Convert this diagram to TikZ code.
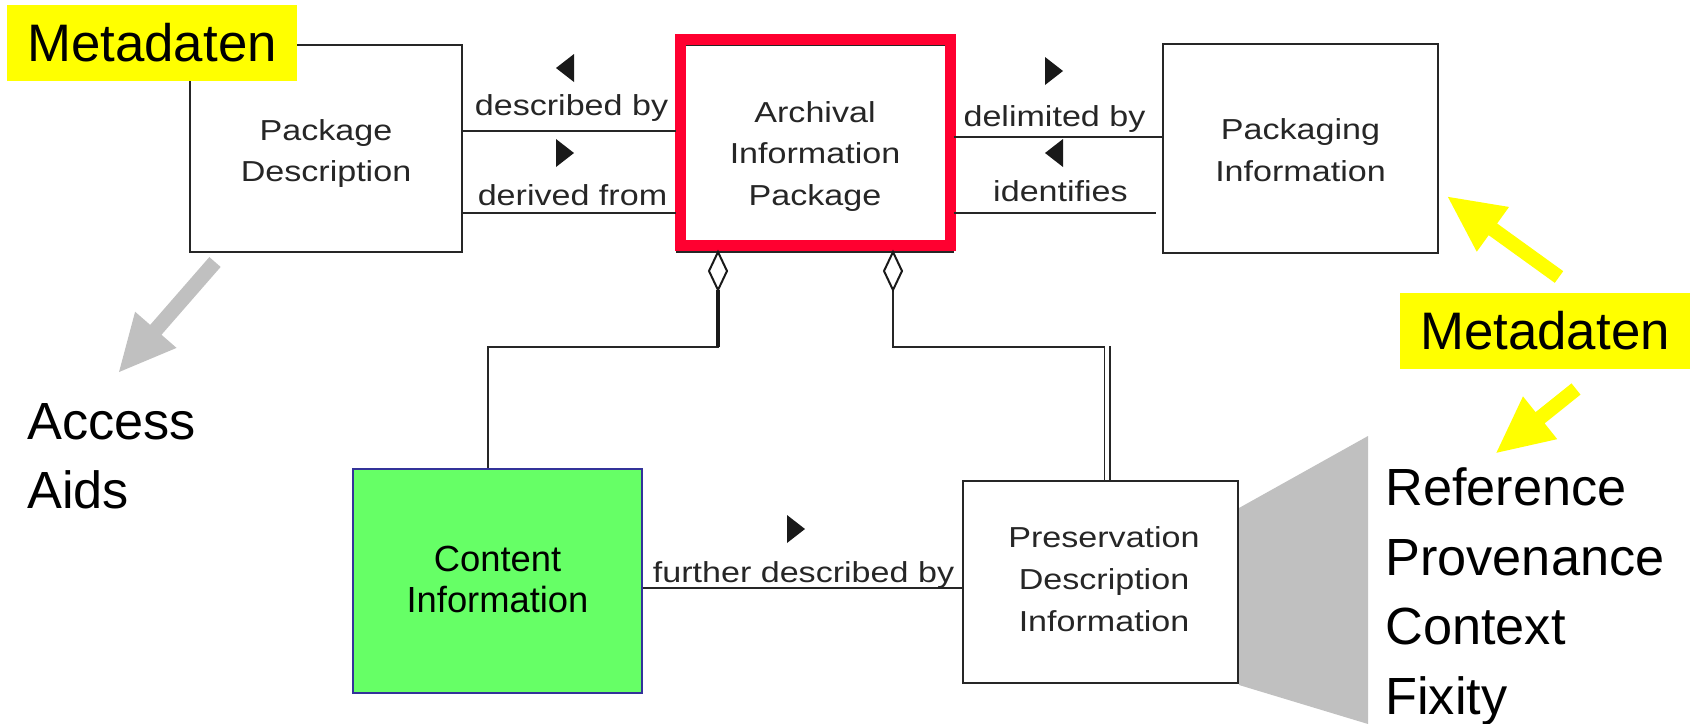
\documentclass[tikz,border=0pt]{standalone}
\usepackage{fontspec}
\setmainfont{Liberation Sans}
% slightly widened sans for the model's box and association labels
\newfontfamily\diagfont[FakeStretch=1.18]{Liberation Sans}
\definecolor{aipred}{HTML}{FF0030}
\definecolor{cigreen}{HTML}{66FF66}
\definecolor{ciblue}{HTML}{333399}
\definecolor{hintgray}{HTML}{C0C0C0}
\definecolor{tagyellow}{HTML}{FFFF00}
% block arrow: colour, start x, start y, angle, length, half shaft width, half head width, head length
\newcommand\blockarrow[8]{%
  \fill[#1, shift={(#2,#3)}, rotate=#4]
    (0,-#6) -- (#5-#8,-#6) -- (#5-#8,-#7) -- (#5,0) -- (#5-#8,#7) -- (#5-#8,#6) -- (0,#6) -- cycle;}
% direction markers of the associations
\newcommand\dirright[2]{\fill[black!90] (#1-9,#2-14) -- (#1+9,#2) -- (#1-9,#2+14) -- cycle;}
\newcommand\dirleft[2]{\fill[black!90] (#1+9,#2-14) -- (#1-9,#2) -- (#1+9,#2+14) -- cycle;}
\begin{document}
\begin{tikzpicture}[x=0.02cm,y=-0.02cm,
  box/.style={draw=black!85, line width=0.04cm, fill=white, inner sep=0},
  boxtext/.style={font=\diagfont\fontsize{16.44}{23.81}\selectfont, text=black!85, align=center, inner sep=0},
  lbl/.style={font=\diagfont\fontsize{16.44}{23.81}\selectfont, text=black!85, inner sep=0, anchor=base},
  conn/.style={draw=black!85, line width=0.04cm},
  aggr/.style={draw=black!90, fill=white, line width=0.04cm},
  bigtext/.style={font=\fontsize{29.76}{39.68}\selectfont, inner sep=0, align=left, anchor=west},
  tag/.style={fill=tagyellow, inner sep=0, minimum width=5.8cm, minimum height=1.52cm,
              font=\fontsize{30.05}{36}\selectfont}
]
\useasboundingbox (0,0) rectangle (1695,724);

% grey fan opening out of the preservation box
\fill[hintgray] (1239,508) -- (1368,436) -- (1368,724) -- (1239,685) -- cycle;

% classes
\node[box, minimum width=5.44cm, minimum height=4.14cm] (pd)  at (326,148.5) {};
\node[box, minimum width=5.52cm, minimum height=4.14cm] (aip) at (815,148.5) {};
\node[box, minimum width=5.5cm,  minimum height=4.18cm] (pi)  at (1300.5,148.5) {};
\node[draw=ciblue, fill=cigreen, line width=0.04cm, inner sep=0,
      minimum width=5.78cm, minimum height=4.48cm] (ci) at (497.5,581) {};
\node[box, minimum width=5.5cm,  minimum height=4.04cm] (pdi) at (1100.5,582) {};

% highlight frame round the archival information package
\draw[aipred, line width=0.22cm] (680,39) rectangle (950,245);

% class names
\node[boxtext] (pdtext)  at (326,153.5)  {Package\\Description};
\node[boxtext] (aiptext) at (815,156.5)  {Archival\\Information\\Package};
\node[boxtext] (pitext)  at (1300.5,150.4) {Packaging\\Information};
\node[boxtext] (pditext) at (1104,579.4) {Preservation\\Description\\Information};
\node[font=\fontsize{20.69}{23.24}\selectfont, align=center, inner sep=0] (citext)
  at (497.5,579.2) {Content\\Information};

% associations
\draw[conn] (pd.east |- 0,131) -- (aip.west |- 0,131);
\draw[conn] (pd.east |- 0,213) -- (aip.west |- 0,213);
\draw[conn] (aip.east |- 0,137) -- (pi.west |- 0,137);
\draw[conn, shorten >=0.12cm] (aip.east |- 0,213) -- (pi.west |- 0,213);
\draw[conn] (ci.east |- 0,588) -- (pdi.west |- 0,588);

\node[lbl] (ldesc)  at (571.5,115)  {described by};
\node[lbl] (lderiv) at (572.5,205)  {derived from};
\node[lbl] (ldelim) at (1054.5,126) {delimited by};
\node[lbl] (lident) at (1060.5,201) {identifies};
\node[lbl] (lfurth) at (803.5,582)  {further described by};

\dirleft{565}{68}
\dirright{565}{153}
\dirright{1054}{71}
\dirleft{1054}{153}
\dirright{796}{529}

% aggregations of the package
\coordinate (aggL) at (718,290);
\coordinate (aggR) at (893,290);
\draw[conn] (aggL) |- (488,347) -- (ci.north -| 488,0);
\draw[black!90, line width=0.07cm] (aggL) -- (718,347);
\draw[conn] (aggR) |- (1107,347);
\draw[black!85, line width=0.03cm, double, double distance=0.08cm] (1107,346) -- (pdi.north -| 1107,0);
\draw[aggr] (718,252) -- (727,271) -- (718,290) -- (709,271) -- cycle;
\draw[aggr] (893,252) -- (902,271) -- (893,290) -- (884,271) -- cycle;

% metadata annotations
\node[tag] (tagA) at (152,43) {Metadaten};
\node[tag] (tagB) at (1545,331) {Metadaten};

\blockarrow{hintgray}{215}{262}{228.9}{146}{7.5}{27.5}{56}
\blockarrow{tagyellow}{1559}{277}{144.2}{137}{7.2}{27.6}{55.5}
\blockarrow{tagyellow}{1576}{389}{218.7}{102}{7.2}{27.4}{56}

\node[bigtext] (access) at (27,456.4) {Access\\Aids};
\node[bigtext] (pdiparts) at (1385,596.5) {Reference\\Provenance\\Context\\Fixity};
\end{tikzpicture}
\end{document}
